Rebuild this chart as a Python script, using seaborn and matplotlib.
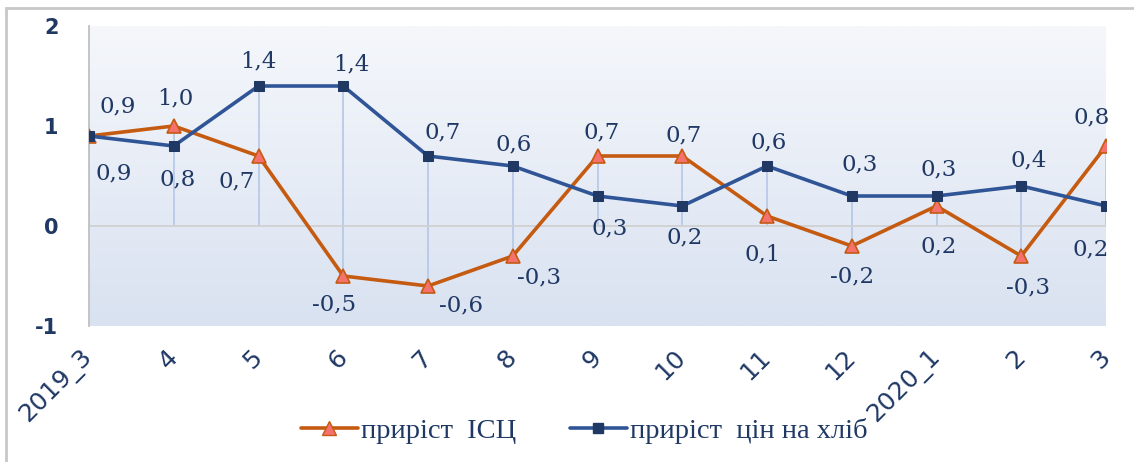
import numpy as np
import pandas as pd
import matplotlib
matplotlib.use("Agg")
import matplotlib.pyplot as plt
from matplotlib.colors import LinearSegmentedColormap
from matplotlib.lines import Line2D
from matplotlib.patches import Rectangle
import seaborn as sns

# ── Data ─────────────────────────────────────────────────
months = ["2019_3", "4", "5", "6", "7", "8", "9", "10", "11", "12", "2020_1", "2", "3"]
cpi    = [0.9, 1.0, 0.7, -0.5, -0.6, -0.3, 0.7, 0.7, 0.1, -0.2, 0.2, -0.3, 0.8]
bread  = [0.9, 0.8, 1.4, 1.4, 0.7, 0.6, 0.3, 0.2, 0.6, 0.3, 0.3, 0.4, 0.2]
series_names = ["приріст  ІСЦ", "приріст  цін на хліб"]

# label offsets (pixels) – placement only
cpi_off   = [(29, 30), (2, 28), (-22, -25), (-9, -28), (33, -19), (26, -21), (4, 24),
             (1, 21), (-4, -38), (0, -30), (2, -40), (7, -31), (-14, 29)]
bread_off = [(25, -37), (4, -33), (0, 25), (8, 22), (15, 24), (1, 22), (12, -32),
             (2, -31), (2, 24), (8, 32), (2, 27), (7, 26), (-15, -43)]

# ── Style ────────────────────────────────────────────────
ORANGE = "#c55a11"
TRI    = "#f4716c"
BLUE   = "#2f5597"
SQ     = "#1f3864"
NAVY   = "#1f3864"
DROP   = "#b4c7e7"

sns.set_style("white")
plt.rcParams["font.family"] = ["DejaVu Sans"]

df = pd.DataFrame({"pos": np.arange(len(months)), "cpi": cpi, "bread": bread})

fig = plt.figure(figsize=(11.34, 4.62), dpi=100)
ax = fig.add_axes([89 / 1134, 1 - 326 / 462, 1017 / 1134, 300 / 462])

# gradient plot area
grad = LinearSegmentedColormap.from_list("g", ["#d9e2f1", "#f5f7fb"])
ax.imshow(np.linspace(0, 1, 256).reshape(-1, 1), cmap=grad, origin="lower",
          extent=[0, 12, -1, 2], aspect="auto", zorder=0)

# drop lines
lo = np.minimum(0, np.minimum(df["cpi"], df["bread"]))
hi = np.maximum(0, np.maximum(df["cpi"], df["bread"]))
ax.vlines(df["pos"], lo, hi, color=DROP, lw=1.2, zorder=1)
ax.axhline(0, color="#d0d0d0", lw=1.3, zorder=1)

sns.lineplot(data=df, x="pos", y="cpi", ax=ax, color=ORANGE, lw=2.6,
             marker="^", markersize=10, markerfacecolor=TRI,
             markeredgecolor=ORANGE, markeredgewidth=1.2, zorder=3)
sns.lineplot(data=df, x="pos", y="bread", ax=ax, color=BLUE, lw=2.6,
             marker="s", markersize=7, markerfacecolor=SQ,
             markeredgecolor=SQ, zorder=4)

def fmt(v):
    return f"{v:.1f}".replace(".", ",")

for vals, offs in [(cpi, cpi_off), (bread, bread_off)]:
    for i, (v, (dx, dy)) in enumerate(zip(vals, offs)):
        ax.annotate(fmt(v), (i, v), xytext=(dx, dy), textcoords="offset pixels",
                    ha="center", va="center", fontsize=16.5, color=NAVY,
                    family="DejaVu Serif", zorder=5)

ax.set_xlim(0, 12)
ax.set_ylim(-1, 2)
ax.set_yticks([-1, 0, 1, 2])
ax.set_yticklabels(["-1", "0", "1", "2"], fontsize=15, fontweight="bold",
                   color=NAVY)
ax.set_xticks(df["pos"])
ax.set_xticklabels(months, rotation=45, ha="right", va="center",
                   rotation_mode="anchor", fontsize=18, color=NAVY)
ax.tick_params(axis="x", length=0, pad=20)
ax.tick_params(axis="y", length=0, pad=22)
ax.set_xlabel("")
ax.set_ylabel("")
for s in ["top", "right", "bottom"]:
    ax.spines[s].set_visible(False)
ax.spines["left"].set_color("#c0c0c0")
ax.spines["left"].set_linewidth(1.3)

handles = [
    Line2D([], [], color=ORANGE, lw=2.6, marker="^", markersize=10,
           markerfacecolor=TRI, markeredgecolor=ORANGE),
    Line2D([], [], color=BLUE, lw=2.6, marker="s", markersize=7,
           markerfacecolor=SQ, markeredgecolor=SQ),
]
fig.legend(handles, series_names, loc="center", bbox_to_anchor=(0.515, 0.068),
           ncol=2, frameon=False, handlelength=2.0, handletextpad=0.1,
           columnspacing=1.9, prop={"family": "Liberation Serif", "size": 20.5},
           labelcolor=NAVY)

# outer border
fig.patches.append(Rectangle((6 / 1134, -0.1), 1.2, 1.1 - 8 / 462,
                             transform=fig.transFigure, fill=False,
                             ec="#c8c8c8", lw=2))

fig.savefig("out.png", dpi=100, facecolor="white")
